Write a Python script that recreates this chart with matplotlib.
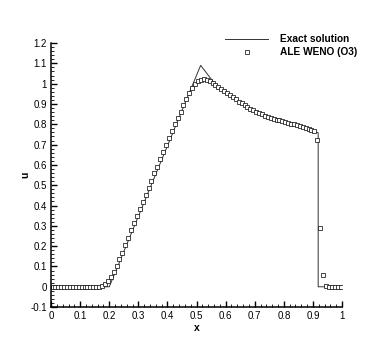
import matplotlib
matplotlib.use("Agg")
import matplotlib.pyplot as plt
from matplotlib.ticker import MultipleLocator, FuncFormatter

# Exact solution
exact_x = [0.0, 0.2, 0.514, 0.557, 0.6, 0.66, 0.7, 0.75, 0.8, 0.85, 0.9, 0.918, 0.918, 1.0]
exact_u = [0.0, 0.0, 1.09, 1.01, 0.955, 0.897, 0.866, 0.836, 0.813, 0.790, 0.770, 0.758, 0.0, 0.0]

# ALE WENO (O3) numerical solution (cell centers)
num_x = [0.005, 0.015, 0.025, 0.035, 0.045, 0.055, 0.065, 0.075, 0.085, 0.095,
         0.105, 0.115, 0.125, 0.135, 0.145, 0.155, 0.165, 0.175, 0.185, 0.195,
         0.205, 0.215, 0.225, 0.235, 0.245, 0.255, 0.265, 0.275, 0.285, 0.295,
         0.305, 0.315, 0.325, 0.335, 0.345, 0.355, 0.365, 0.375, 0.385, 0.395,
         0.405, 0.415, 0.425, 0.435, 0.445, 0.455, 0.465, 0.475, 0.485, 0.495,
         0.505, 0.515, 0.525, 0.535, 0.545, 0.555, 0.565, 0.575, 0.585, 0.595,
         0.605, 0.615, 0.625, 0.635, 0.645, 0.655, 0.665, 0.675, 0.685, 0.695,
         0.705, 0.715, 0.725, 0.735, 0.745, 0.755, 0.765, 0.775, 0.785, 0.795,
         0.805, 0.815, 0.825, 0.835, 0.845, 0.855, 0.865, 0.875, 0.885, 0.895,
         0.905, 0.915, 0.925, 0.935, 0.945, 0.955, 0.965, 0.975, 0.985, 0.995]
num_u = [0.0, 0.0, 0.0, 0.0, 0.0, 0.0, 0.0, 0.0, 0.0, 0.0,
         0.0, 0.0, 0.0, 0.0, 0.0, 0.0, 0.001, 0.005, 0.013, 0.027,
         0.048, 0.074, 0.103, 0.135, 0.168, 0.205, 0.240, 0.280, 0.315, 0.350,
         0.384, 0.419, 0.454, 0.488, 0.523, 0.558, 0.592, 0.627, 0.662, 0.697,
         0.731, 0.766, 0.800, 0.833, 0.862, 0.893, 0.925, 0.953, 0.978, 0.998,
         1.011, 1.019, 1.021, 1.018, 1.012, 1.005, 0.995, 0.985, 0.973, 0.962,
         0.952, 0.942, 0.932, 0.922, 0.912, 0.903, 0.894, 0.885, 0.877, 0.869,
         0.862, 0.855, 0.849, 0.843, 0.838, 0.833, 0.828, 0.823, 0.819, 0.815,
         0.811, 0.807, 0.803, 0.799, 0.795, 0.791, 0.786, 0.782, 0.777, 0.772,
         0.765, 0.725, 0.289, 0.056, 0.004, 0.0, 0.0, 0.0, 0.0, 0.0]

x_ticks = [0, 0.1, 0.2, 0.3, 0.4, 0.5, 0.6, 0.7, 0.8, 0.9, 1]
y_ticks = [-0.1, 0, 0.1, 0.2, 0.3, 0.4, 0.5, 0.6, 0.7, 0.8, 0.9, 1, 1.1, 1.2]

plt.rcParams['font.family'] = ['Liberation Sans', 'DejaVu Sans']

fig = plt.figure(figsize=(3.9, 3.47), dpi=100)
ax = fig.add_axes([0.131, 0.115, 0.746, 0.761])

ax.plot(exact_x, exact_u, color='#333333', lw=0.7, label='Exact solution')
ax.plot(num_x, num_u, ls='none', marker='s', ms=2.2, mfc='white', mec='black',
        mew=0.5, label='ALE WENO (O3)')

ax.set_xlim(0, 1)
ax.set_ylim(-0.1, 1.2)
ax.set_xticks(x_ticks)
ax.set_yticks(y_ticks)
fmt = FuncFormatter(lambda v, p: ('%g' % round(v, 3)))
ax.xaxis.set_major_formatter(fmt)
ax.yaxis.set_major_formatter(fmt)
ax.xaxis.set_minor_locator(MultipleLocator(0.02))
ax.yaxis.set_minor_locator(MultipleLocator(0.02))

for s in ['top', 'right']:
    ax.spines[s].set_visible(False)
for s in ['left', 'bottom']:
    ax.spines[s].set_linewidth(1.1)

ax.tick_params(which='major', direction='in', length=4.5, width=1.0,
               labelsize=7, pad=3)
ax.tick_params(which='minor', direction='in', length=2.2, width=0.6)

ax.set_xlabel('x', fontsize=7.5, fontweight='bold', labelpad=1)
ax.set_ylabel('u', fontsize=7.5, fontweight='bold', labelpad=0)

leg = ax.legend(loc='upper right', bbox_to_anchor=(1.075, 1.06), frameon=False,
                prop={'size': 7.3, 'weight': 'bold'}, handlelength=4.3,
                handletextpad=1.1, labelspacing=0.3, borderpad=0.2)

fig.savefig('out.png', dpi=100)
